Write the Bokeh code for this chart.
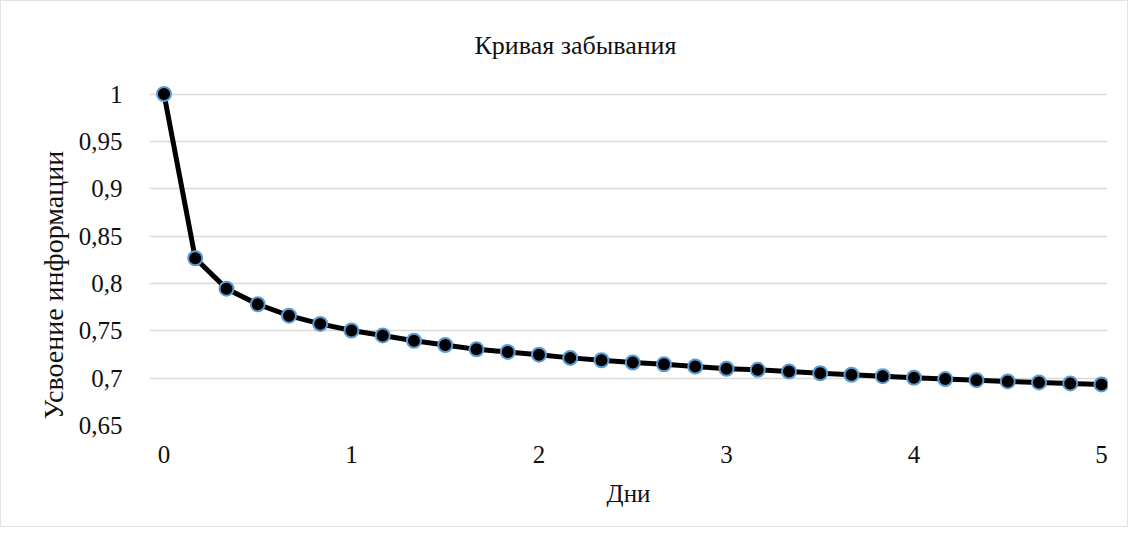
from bokeh.plotting import figure
from bokeh.models import FixedTicker, Title
from bokeh.embed import file_html
from bokeh.resources import INLINE

# Data
days = [i / 6 for i in range(31)]
retention = [1.0, 0.8266, 0.7945, 0.7780, 0.7660, 0.7573, 0.7503, 0.7451, 0.7395,
             0.7350, 0.7304, 0.7277, 0.7248, 0.7214, 0.7189, 0.7165, 0.7147, 0.7123,
             0.7099, 0.7088, 0.7070, 0.7052, 0.7036, 0.7021, 0.7004, 0.6990, 0.6979,
             0.6965, 0.6955, 0.6944, 0.6934]
x_ticks = [0, 1, 2, 3, 4, 5]
y_ticks = [0.65, 0.7, 0.75, 0.8, 0.85, 0.9, 0.95, 1.0]
y_tick_labels = ["0,65", "0,7", "0,75", "0,8", "0,85", "0,9", "0,95", "1"]
title_text = "Кривая забывания"
x_title = "Дни"
y_title = "Усвоение информации"

FONT = "Liberation Serif"
FS = "25px"
TXT = "#111111"

p = figure(width=1128, height=527, output_backend="svg", toolbar_location=None,
           x_range=(-0.0773, 5.032), y_range=(0.65, 1.0111),
           min_border_left=148, min_border_right=22, min_border_top=82,
           min_border_bottom=103, background_fill_color="white",
           border_fill_color="white", outline_line_color=None,
           styles={"border": "1px solid #e3e3e3", "box-sizing": "border-box"})

p.title.text = title_text
p.title.align = "left"
p.title.offset = 325
p.title.text_font = FONT
p.title.text_font_size = "26px"
p.title.text_font_style = "normal"
p.title.text_color = TXT
p.title.standoff = 47

p.add_layout(Title(text=y_title, align="left", offset=6, text_font=FONT,
                   text_font_size="28px", text_font_style="normal",
                   text_color=TXT, standoff=13), "left")

p.xgrid.grid_line_color = None
p.ygrid.grid_line_color = "#d9d9d9"
p.ygrid.grid_line_width = 1.5

for ax in (p.xaxis[0], p.yaxis[0]):
    ax.axis_line_color = None
    ax.major_tick_line_color = None
    ax.minor_tick_line_color = None
    ax.major_label_text_font = FONT
    ax.major_label_text_font_size = FS
    ax.major_label_text_color = TXT
    ax.axis_label_text_font = FONT
    ax.axis_label_text_font_size = FS
    ax.axis_label_text_font_style = "normal"
    ax.axis_label_text_color = TXT

p.xaxis[0].ticker = FixedTicker(ticks=x_ticks)
p.xaxis[0].major_label_standoff = 14
p.xaxis[0].axis_label = x_title
p.xaxis[0].axis_label_standoff = 14
p.yaxis[0].ticker = FixedTicker(ticks=y_ticks)
p.yaxis[0].major_label_overrides = {t: l for t, l in zip(y_ticks, y_tick_labels)}
p.yaxis[0].major_label_standoff = 21

p.line(days, retention, line_color="black", line_width=5)
p.scatter(days, retention, size=14, fill_color="black", line_color="#5b9bd5", line_width=2)

open("out.html", "w").write(file_html(p, INLINE))
